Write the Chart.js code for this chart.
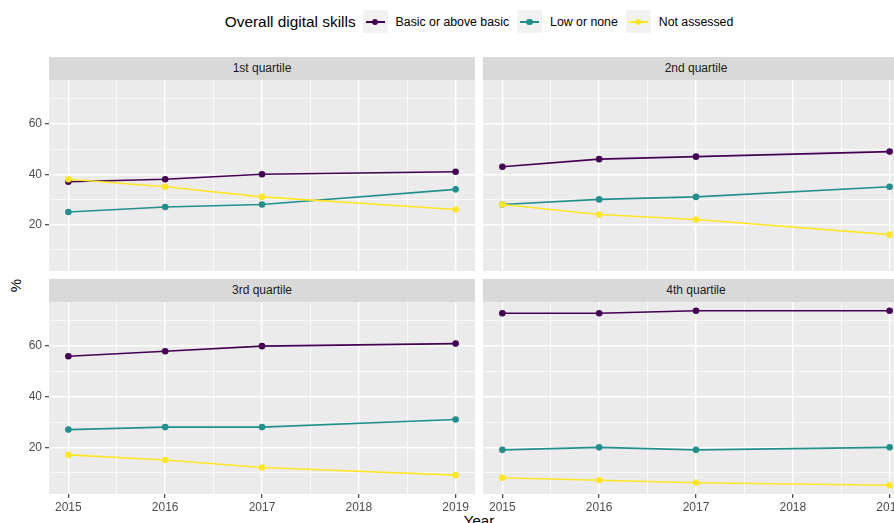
<!DOCTYPE html>
<html>
<head>
<meta charset="utf-8">
<script src="https://cdn.jsdelivr.net/npm/chart.js@4.4.1/dist/chart.umd.min.js"></script>
<style>
  html, body { margin: 0; padding: 0; background: #fff; }
  body { width: 894px; height: 523px; overflow: hidden; position: relative; font-family: "Liberation Sans", Arial, sans-serif; }
  canvas { position: absolute; }
  .strip { position: absolute; background: #D9D9D9; color: #1A1A1A; font-size: 12px; display: flex; align-items: center; justify-content: center; }
  #legend { position: absolute; left: 53px; top: 10px; width: 860px; height: 23px; display: flex; align-items: center; justify-content: center; color: #000; }
  #legend .title { font-size: 15.4px; margin-right: 7px; }
  #legend .key { width: 25px; height: 23px; background: #F2F2F2; position: relative; margin-right: 8px; }
  #legend .key .ln { position: absolute; left: 3px; right: 3px; top: 11px; height: 1.5px; }
  #legend .key .pt { position: absolute; left: 9.2px; top: 8.5px; width: 6.5px; height: 6.5px; border-radius: 50%; }
  #legend .lab { font-size: 12.3px; margin-right: 8px; }
  .axis-title { position: absolute; font-size: 15px; color: #000; }
</style>
</head>
<body>
<div id="legend"></div>
<div class="axis-title" style="left:9px; top:277px; transform: rotate(-90deg);">%</div>
<div class="axis-title" style="left:449px; top:512px; width:60px; text-align:center;">Year</div>

<script>
const years = [2015, 2016, 2017, 2019];
const quartiles = ["1st quartile", "2nd quartile", "3rd quartile", "4th quartile"];
const skillLevels = ["Basic or above basic", "Low or none", "Not assessed"];

// one row per quartile, values in % for each year above
const basicOrAbove = [
  [37, 38, 40, 41],
  [43, 46, 47, 49],
  [56, 58, 60, 61],
  [73, 73, 74, 74],
];
const lowOrNone = [
  [25, 27, 28, 34],
  [28, 30, 31, 35],
  [27, 28, 28, 31],
  [19, 20, 19, 20],
];
const notAssessed = [
  [38, 35, 31, 26],
  [28, 24, 22, 16],
  [17, 15, 12, 9],
  [8, 7, 6, 5],
];

const xTickLabels = [2015, 2016, 2017, 2018, 2019];
const yTickLabels = [20, 40, 60];

const series = [basicOrAbove, lowOrNone, notAssessed];
const colours = ["#440154", "#21908C", "#FDE725"];

// ggplot-style 5% expansion on both axes
const allValues = series.flat(2);
const vMin = Math.min(...allValues), vMax = Math.max(...allValues);
const yMin = vMin - 0.05 * (vMax - vMin);
const yMax = vMax + 0.05 * (vMax - vMin);
const xMin = years[0] - 0.05 * (years[years.length - 1] - years[0]);
const xMax = years[years.length - 1] + 0.05 * (years[years.length - 1] - years[0]);

// major breaks plus minor breaks halfway between (and beyond, inside the range)
function withMinors(major, lo, hi) {
  const step = (major[1] - major[0]) / 2;
  const out = [];
  for (let v = major[0] - step * 4; v <= major[major.length - 1] + step * 4; v += step) {
    if (v >= lo && v <= hi) out.push(v);
  }
  return out;
}
const xGrid = withMinors(xTickLabels, xMin, xMax);
const yGrid = withMinors(yTickLabels, yMin, yMax);

// legend
const legend = document.getElementById("legend");
legend.innerHTML = '<span class="title">Overall digital skills</span>' +
  skillLevels.map((s, i) =>
    `<span class="key"><span class="ln" style="background:${colours[i]}"></span>` +
    `<span class="pt" style="background:${colours[i]}"></span></span>` +
    `<span class="lab">${s}</span>`).join("");

const panelBg = {
  id: "panelBg",
  beforeDraw(chart) {
    const { ctx, chartArea: a } = chart;
    ctx.save();
    ctx.fillStyle = "#EBEBEB";
    ctx.fillRect(a.left, a.top, a.right - a.left, a.bottom - a.top);
    ctx.restore();
  },
};

const tickFont = { family: "'Liberation Sans', Arial, sans-serif", size: 12 };

// panel boxes: [left, top] of plot area
const panels = [
  { left: 49, top: 80, h: 191, showX: false, showY: true },
  { left: 483, top: 80, h: 191, showX: false, showY: false },
  { left: 49, top: 302, h: 192, showX: true, showY: true },
  { left: 483, top: 302, h: 192, showX: true, showY: false },
];
const panelW = 426;
const yAxisW = 49;
const xAxisH = 24;

panels.forEach((p, q) => {
  const strip = document.createElement("div");
  strip.className = "strip";
  strip.textContent = quartiles[q];
  strip.style.left = p.left + "px";
  strip.style.top = (p.top - 23.5) + "px";
  strip.style.width = panelW + "px";
  strip.style.height = "23.5px";
  document.body.appendChild(strip);

  const canvas = document.createElement("canvas");
  const cw = panelW + (p.showY ? yAxisW : 0);
  const ch = p.h + (p.showX ? xAxisH : 0);
  canvas.width = cw;
  canvas.height = ch;
  canvas.style.left = (p.left - (p.showY ? yAxisW : 0)) + "px";
  canvas.style.top = p.top + "px";
  canvas.style.width = cw + "px";
  canvas.style.height = ch + "px";
  document.body.appendChild(canvas);

  const datasets = skillLevels.map((name, i) => ({
    label: name,
    data: years.map((yr, j) => ({ x: yr, y: series[i][q][j] })),
    borderColor: colours[i],
    backgroundColor: colours[i],
    borderWidth: 1.6,
    pointRadius: 3.3,
    pointBorderWidth: 0,
    pointHoverRadius: 3.3,
    order: skillLevels.length - i,
  }));

  new Chart(canvas, {
    type: "line",
    data: { datasets },
    options: {
      responsive: false,
      animation: false,
      devicePixelRatio: 1,
      layout: { padding: 0, autoPadding: false },
      plugins: { legend: { display: false }, tooltip: { enabled: false } },
      scales: {
        x: {
          type: "linear",
          min: xMin,
          max: xMax,
          afterBuildTicks: (s) => { s.ticks = xGrid.map((v) => ({ value: v })); },
          afterFit: (s) => {
            s.height = p.showX ? xAxisH : 0;
            s.paddingLeft = 0;
            s.paddingRight = 0;
          },
          ticks: {
            display: p.showX,
            autoSkip: false,
            maxRotation: 0,
            padding: 2,
            font: tickFont,
            color: "#4D4D4D",
            callback: (v) => (xTickLabels.includes(v) ? String(v) : ""),
          },
          grid: {
            color: "#FFFFFF",
            lineWidth: (c) => (xTickLabels.includes(c.tick.value) ? 1.4 : 0.7),
            drawTicks: p.showX,
            tickLength: 4,
            tickWidth: 1.1,
            tickColor: (c) => (xTickLabels.includes(c.tick.value) ? "#333333" : "rgba(0,0,0,0)"),
          },
          border: { display: false },
        },
        y: {
          type: "linear",
          min: yMin,
          max: yMax,
          afterBuildTicks: (s) => { s.ticks = yGrid.map((v) => ({ value: v })); },
          afterFit: (s) => {
            s.width = p.showY ? yAxisW : 0;
            s.paddingTop = 0;
            s.paddingBottom = 0;
          },
          ticks: {
            display: p.showY,
            padding: 3,
            font: tickFont,
            color: "#4D4D4D",
            callback: (v) => (yTickLabels.includes(v) ? String(v) : ""),
          },
          grid: {
            color: "#FFFFFF",
            lineWidth: (c) => (yTickLabels.includes(c.tick.value) ? 1.4 : 0.7),
            drawTicks: p.showY,
            tickLength: 4,
            tickWidth: 1.1,
            tickColor: (c) => (yTickLabels.includes(c.tick.value) ? "#333333" : "rgba(0,0,0,0)"),
          },
          border: { display: false },
        },
      },
    },
    plugins: [panelBg],
  });
});
</script>
</body>
</html>
